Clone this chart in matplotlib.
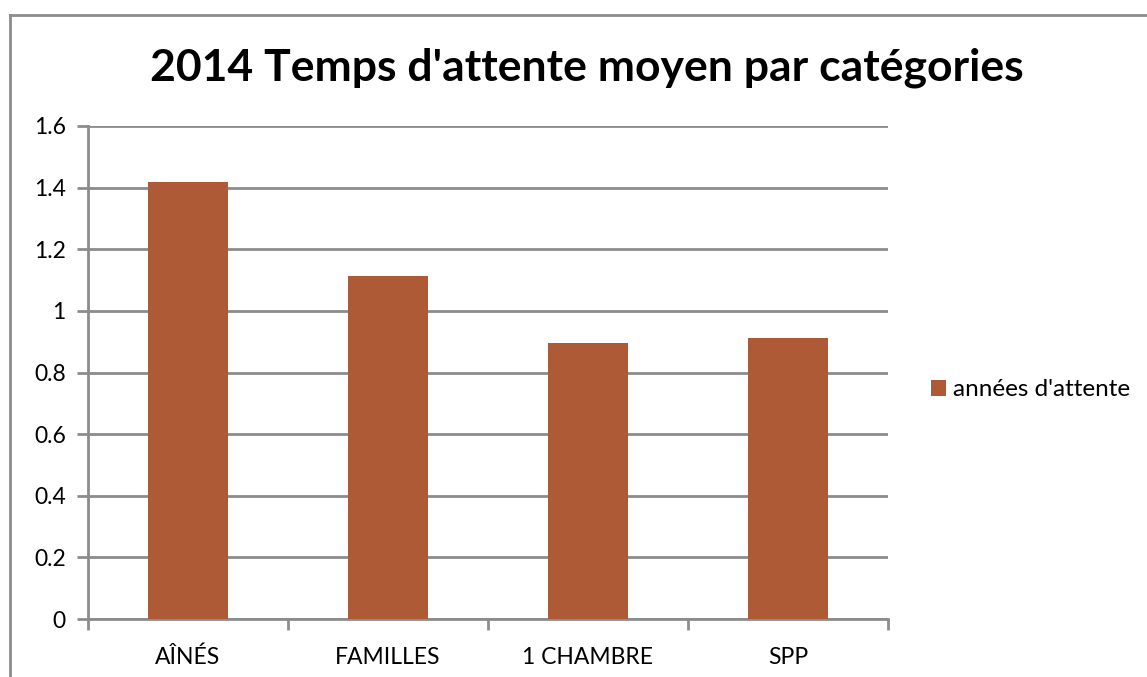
import matplotlib
matplotlib.use("Agg")
import matplotlib.pyplot as plt
from matplotlib.lines import Line2D
import numpy as np

categories = ["AÎNÉS", "FAMILLES", "1 CHAMBRE", "SPP"]
values = [1.417, 1.114, 0.895, 0.912]
series_name = "années d'attente"
title = "2014 Temps d'attente moyen par catégories"
yticks = [0, 0.2, 0.4, 0.6, 0.8, 1, 1.2, 1.4, 1.6]
ytick_labels = ["0", "0.2", "0.4", "0.6", "0.8", "1", "1.2", "1.4", "1.6"]

plt.rcParams['font.family'] = ['Lato', 'DejaVu Sans']
W, H = 1147, 677
fig = plt.figure(figsize=(W / 100, H / 100), dpi=100)
ax = fig.add_axes([88 / W, 1 - 619 / H, 800 / W, (619 - 126) / H])

grid_c = "#8c8c8c"
bar_c = "#AE5A37"
lw = 2.0
x = np.arange(len(categories))
ax.bar(x, values, width=0.4, color=bar_c, zorder=3, label=series_name)
ax.set_xlim(-0.5, len(categories) - 0.5)
ax.set_ylim(0, 1.6)
ax.set_yticks(yticks)
ax.set_yticklabels(ytick_labels, fontsize=16.5)
ax.yaxis.grid(True, color=grid_c, linewidth=lw, zorder=0)
ax.set_xticks(x)
ax.set_xticklabels(categories, fontsize=16.5)
ax.set_xticks(np.arange(-0.5, len(categories)), minor=True)
ax.tick_params(axis='x', which='major', length=0, pad=20)
ax.tick_params(axis='x', which='minor', length=8, color=grid_c, width=lw)
ax.tick_params(axis='y', length=8, color=grid_c, width=lw, pad=8)
for s in ['top', 'right']:
    ax.spines[s].set_visible(False)
for s in ['left', 'bottom']:
    ax.spines[s].set_color(grid_c)
    ax.spines[s].set_linewidth(lw)

fig.text(587 / W, 1 - 68 / H, title, ha='center', va='center',
         fontsize=32, fontweight='bold')

leg = fig.legend(loc='center left', bbox_to_anchor=(931 / W, 1 - 390 / H),
                 frameon=False, fontsize=17.5, handlelength=0.62, handleheight=0.62,
                 handletextpad=0.3, borderaxespad=0, borderpad=0)

fig.add_artist(Line2D([10 / W, 10 / W], [0, 1 - 15 / H], transform=fig.transFigure,
                      color=grid_c, linewidth=lw))
fig.add_artist(Line2D([10 / W, 1], [1 - 15 / H, 1 - 15 / H], transform=fig.transFigure,
                      color=grid_c, linewidth=lw))

fig.savefig("out.png", dpi=100)
